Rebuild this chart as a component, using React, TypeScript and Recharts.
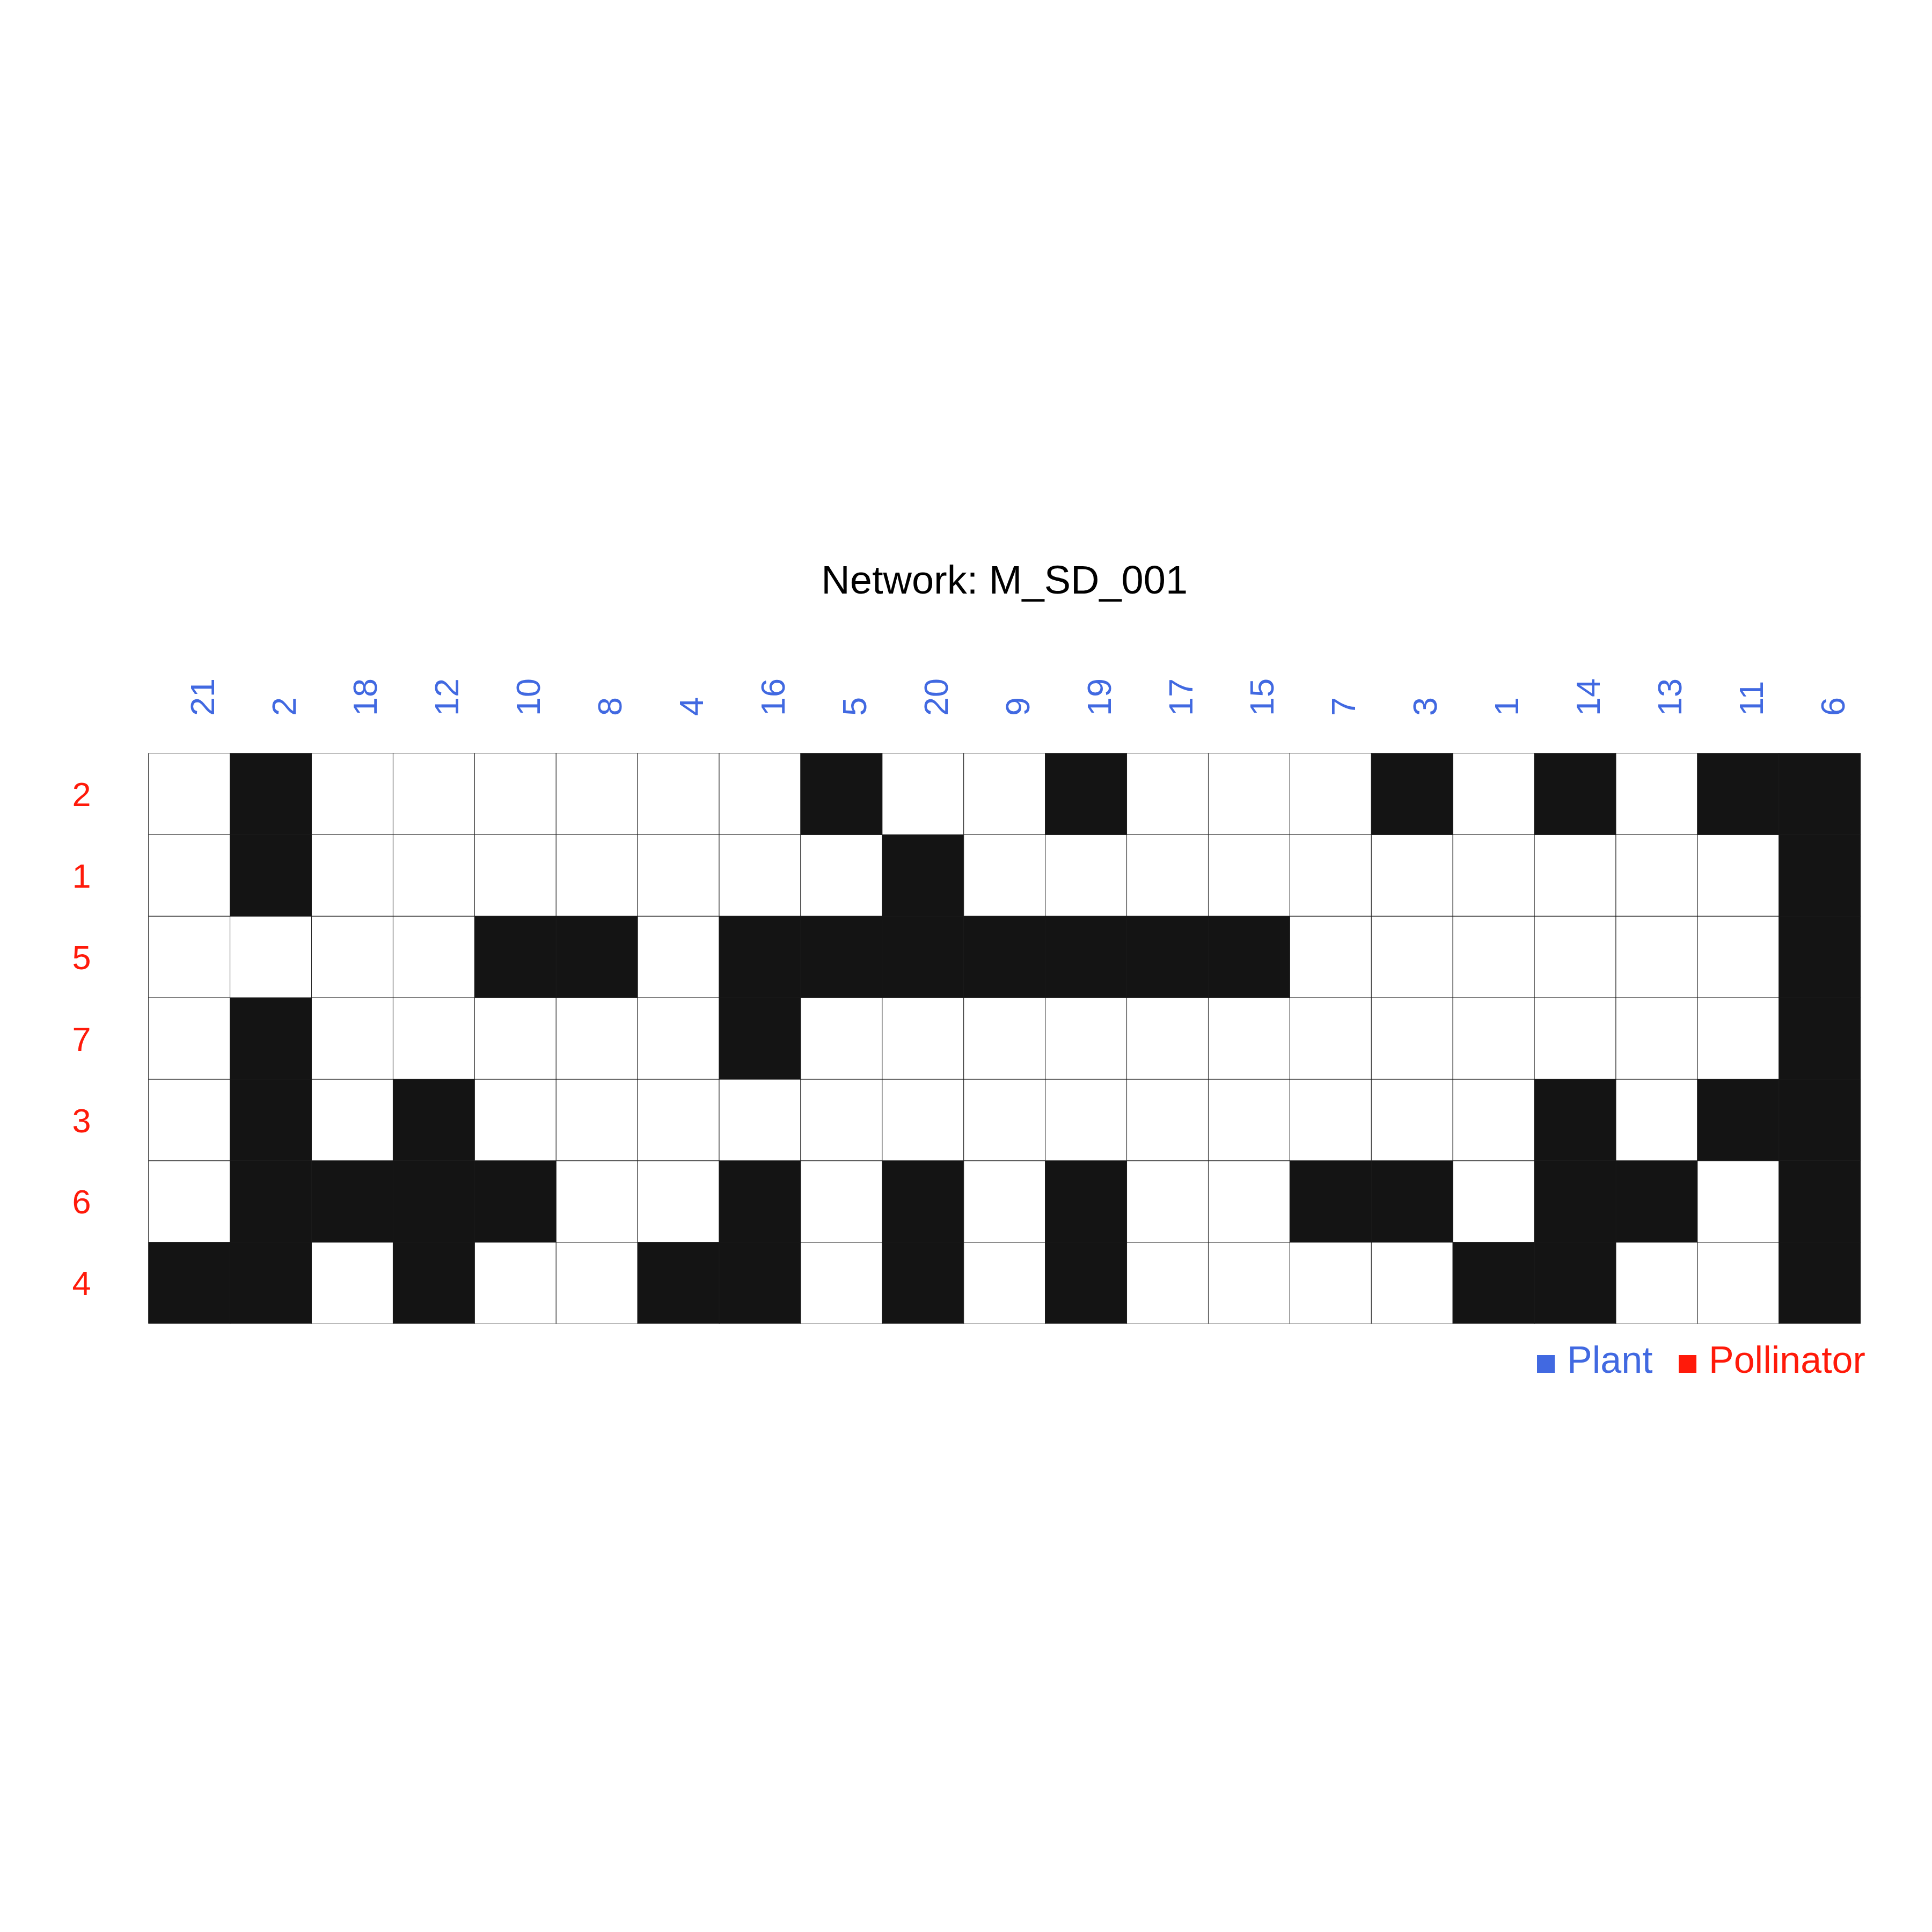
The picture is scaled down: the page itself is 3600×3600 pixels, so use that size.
import React from 'react';
import { BarChart, Bar, XAxis, YAxis, Cell } from 'recharts';

// Column (plant) labels, left to right
const columns = ['21', '2', '18', '12', '10', '8', '4', '16', '5', '20', '9', '19', '17', '15', '7', '3', '1', '14', '13', '11', '6'];
// Row (pollinator) labels, top to bottom
const rows = ['2', '1', '5', '7', '3', '6', '4'];

// Interaction matrix rows (1 = interaction), in column order above
const row2 = [0, 1, 0, 0, 0, 0, 0, 0, 1, 0, 0, 1, 0, 0, 0, 1, 0, 1, 0, 1, 1];
const row1 = [0, 1, 0, 0, 0, 0, 0, 0, 0, 1, 0, 0, 0, 0, 0, 0, 0, 0, 0, 0, 1];
const row5 = [0, 0, 0, 0, 1, 1, 0, 1, 1, 1, 1, 1, 1, 1, 0, 0, 0, 0, 0, 0, 1];
const row7 = [0, 1, 0, 0, 0, 0, 0, 1, 0, 0, 0, 0, 0, 0, 0, 0, 0, 0, 0, 0, 1];
const row3 = [0, 1, 0, 1, 0, 0, 0, 0, 0, 0, 0, 0, 0, 0, 0, 0, 0, 1, 0, 1, 1];
const row6 = [0, 1, 1, 1, 1, 0, 0, 1, 0, 1, 0, 1, 0, 0, 1, 1, 0, 1, 1, 0, 1];
const row4 = [1, 1, 0, 1, 0, 0, 1, 1, 0, 1, 0, 1, 0, 0, 0, 0, 1, 1, 0, 0, 1];

const matrix: Record<string, number[]> = { '2': row2, '1': row1, '5': row5, '7': row7, '3': row3, '6': row6, '4': row4 };

const legendItems = [
  { label: 'Plant', color: '#4169E1' },
  { label: 'Pollinator', color: '#FF1A0A' },
];

const title = 'Network: M_SD_001';

const PLANT_COLOR = '#4169E1';
const POLL_COLOR = '#FF1A0A';
const FILL_ON = '#141414';
const FILL_OFF = '#FFFFFF';
const FONT = '"Liberation Sans", Arial, Helvetica, sans-serif';

// rows from bottom to top for stacking
const rowsBottomUp = [...rows].reverse();

// each category gets one unit per row; the cell color comes from the matrix
const data = columns.map((c) => {
  const o: Record<string, any> = { col: c };
  rows.forEach((r) => { o['r' + r] = 1; });
  return o;
});

const W = 3584;
const H = 3584;
const plotLeft = 268.7;
const plotTop = 1395.3;
const plotW = 3190;
const plotH = 1063.3;
const xAxisH = 200;
const yAxisW = 200;

const XTick = (props: any) => {
  const { x, payload } = props;
  const ax = x + 46;
  const ay = 1326;
  return (
    <text x={ax} y={ay} transform={`rotate(-90, ${ax}, ${ay})`} textAnchor="start"
      fill={PLANT_COLOR} fontSize={63} fontFamily={FONT}>
      {payload.value}
    </text>
  );
};

const YTick = (props: any) => {
  const { y, payload } = props;
  const idx = Math.round(payload.value - 0.5);
  return (
    <text x={144} y={y} dy="0.36em" textAnchor="middle" fill={POLL_COLOR} fontSize={63} fontFamily={FONT}>
      {rowsBottomUp[idx]}
    </text>
  );
};

export default function App() {
  return (
    <div style={{ position: 'relative', width: W, height: H, background: '#fff' }}>
      <BarChart
        width={W}
        height={H}
        data={data}
        barCategoryGap={0}
        barGap={0}
        margin={{ top: plotTop - xAxisH, left: plotLeft - yAxisW, right: W - plotLeft - plotW, bottom: H - plotTop - plotH }}
      >
        <XAxis dataKey="col" type="category" orientation="top" height={xAxisH} interval={0}
          tickLine={false} axisLine={false} tick={<XTick />} />
        <YAxis type="number" domain={[0, rows.length]} ticks={rowsBottomUp.map((_, i) => i + 0.5)}
          width={yAxisW} tickLine={false} axisLine={false} tick={<YTick />} allowDataOverflow />
        {rowsBottomUp.map((r) => (
          <Bar key={r} dataKey={'r' + r} stackId="a" isAnimationActive={false} stroke="#1a1a1a" strokeWidth={1}>
            {columns.map((c, ci) => (
              <Cell key={c} fill={matrix[r][ci] ? FILL_ON : FILL_OFF} />
            ))}
          </Bar>
        ))}
      </BarChart>
      <svg width={W} height={H} style={{ position: 'absolute', left: 0, top: 0, pointerEvents: 'none' }}>
        <text x={plotLeft + plotW / 2} y={1098} textAnchor="middle" fontSize={74} fontFamily={FONT} fill="#000">
          {title}
        </text>
        {legendItems.map((it, i) => {
          const x0 = i === 0 ? 2856 : 3120;
          return (
            <g key={it.label}>
              <rect x={x0} y={2517} width={33} height={33} fill={it.color} />
              <text x={x0 + 56} y={2550} fill={it.color} fontSize={70} fontFamily={FONT}>{it.label}</text>
            </g>
          );
        })}
      </svg>
    </div>
  );
}
